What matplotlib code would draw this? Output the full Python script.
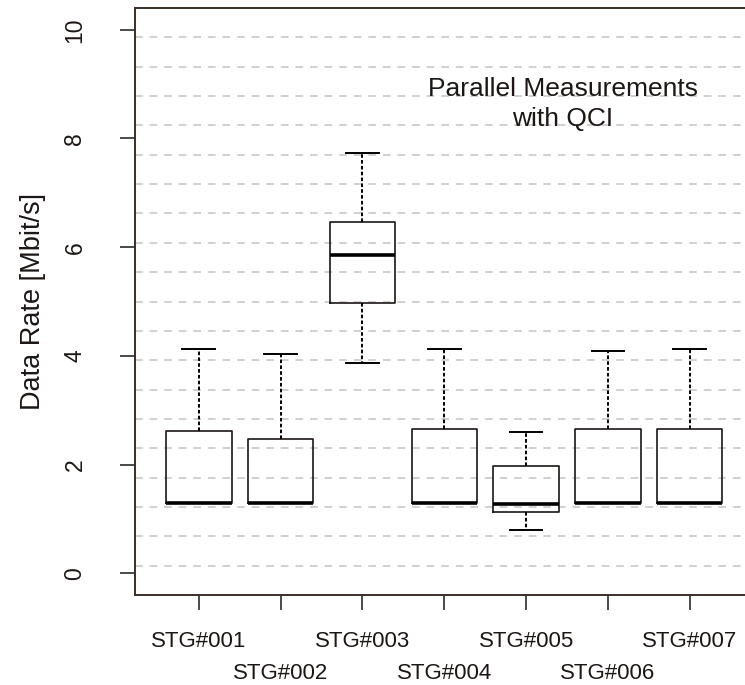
import numpy as np
import matplotlib.pyplot as plt

plt.rcParams['font.family'] = ['Liberation Sans', 'DejaVu Sans']
plt.rcParams['lines.scale_dashes'] = False

# values (Mbit/s)
stations = ['STG#001', 'STG#002', 'STG#003', 'STG#004', 'STG#005', 'STG#006', 'STG#007']
whisker_low = [1.30, 1.30, 3.86, 1.30, 0.80, 1.30, 1.30]
q1 = [1.30, 1.30, 4.98, 1.30, 1.13, 1.30, 1.30]
median = [1.30, 1.30, 5.86, 1.30, 1.28, 1.30, 1.30]
q3 = [2.62, 2.47, 6.46, 2.66, 1.97, 2.66, 2.66]
whisker_high = [4.12, 4.04, 7.73, 4.12, 2.60, 4.09, 4.12]
y_ticks = [0, 2, 4, 6, 8, 10]

ink = '#1c1714'

fig = plt.figure(figsize=(7.45, 6.85), dpi=100)
ax = fig.add_axes([0.1812, 0.1314, 0.8303, 0.8569])

stats = []
for i in range(len(stations)):
    stats.append({'label': stations[i], 'med': median[i], 'q1': q1[i], 'q3': q3[i],
                  'whislo': whisker_low[i], 'whishi': whisker_high[i], 'fliers': []})

pos = np.arange(1, len(stations) + 1)
ax.bxp(stats, positions=pos, widths=0.8, capwidths=0.4, showfliers=False,
       boxprops=dict(color=ink, lw=1.2),
       medianprops=dict(color='black', lw=2.6, solid_capstyle='butt'),
       whiskerprops=dict(color='black', lw=1.4, linestyle=(0, (2.6, 1.6))),
       capprops=dict(color='black', lw=1.4))

# R style limits, grid(ny=20) over the user range
ax.set_xlim(0.22, 7.78)
ax.set_ylim(-0.4, 10.4)
for g in np.linspace(-0.4, 10.4, 21)[1:-1]:
    ax.axhline(g, color='#c4c4c4', lw=1.1, dashes=(5.5, 5.0), zorder=0)

ax.set_yticks(y_ticks)
ax.set_yticklabels([str(t) for t in y_ticks], rotation=90, va='center', fontsize=16.5, color=ink)
ax.tick_params(axis='y', length=11, width=1.1, color=ink, pad=24)

# staggered station labels like R does when they overlap
ax.set_xticks(pos[::2])
ax.set_xticklabels(stations[::2], fontsize=16, color=ink)
ax.set_xticks(pos[1::2], minor=True)
ax.set_xticklabels(stations[1::2], minor=True, fontsize=16, color=ink)
ax.tick_params(axis='x', which='major', length=11, width=1.1, color=ink, pad=15)
ax.tick_params(axis='x', which='minor', length=11, width=1.1, color=ink, pad=38)

ax.set_ylabel('Data Rate [Mbit/s]', fontsize=19.5, color=ink)
ax.yaxis.set_label_coords(-0.165, 0.5)
ax.yaxis.label.set_va('center')

for s in ax.spines.values():
    s.set_color('#3a2e28')
    s.set_linewidth(1.4)

ax.text(5.45, 8.64, 'Parallel Measurements\nwith QCI', ha='center', va='center',
        multialignment='center', linespacing=1.3, fontsize=19, color=ink)

fig.savefig('out.png', dpi=100)
